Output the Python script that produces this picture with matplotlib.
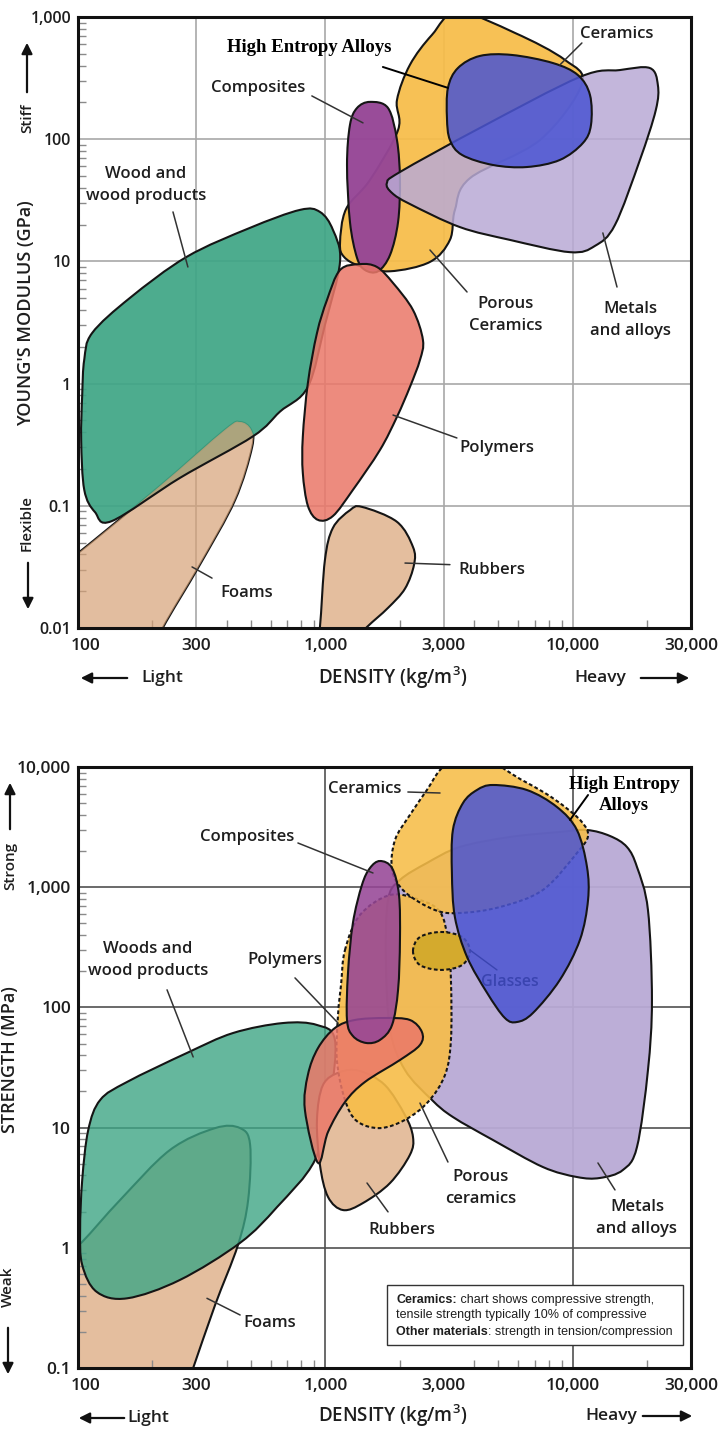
import numpy as np
import matplotlib
matplotlib.use('Agg')
import matplotlib.pyplot as plt
import matplotlib.transforms as mtrans
from matplotlib.path import Path
from matplotlib.patches import PathPatch, FancyArrowPatch, Rectangle
from matplotlib.colors import to_rgba
from matplotlib.ticker import LogLocator, NullFormatter

plt.rcParams['font.family'] = ['Open Sans', 'DejaVu Sans']
plt.rcParams['font.weight'] = 'semibold'
plt.rcParams['mathtext.default'] = 'regular'

W, H = 723, 1432

# ---------------- data: material bubbles (density kg/m3, property) ----------------
# Young's modulus chart (GPa)
foam_E_rho = [86, 86, 100, 214, 393, 452, 500, 505, 431, 311, 220, 195]
foam_E_val = [0.0055, 0.033, 0.041, 0.145, 0.42, 0.485, 0.42, 0.30, 0.111, 0.033, 0.010, 0.0055]

wood_E_rho = [106, 114, 162, 275, 495, 789, 950, 1072, 1145, 995, 849, 655, 509, 258, 137, 117, 106, 103, 104]
wood_E_val = [1.57, 2.59, 5.02, 10.9, 18.8, 26.4, 25.4, 18.1, 9.9, 3.02, 0.94, 0.59, 0.37, 0.169, 0.075, 0.089, 0.135, 0.345, 0.81]

rubber_E_rho = [915, 950, 995, 1072, 1256, 1404, 1944, 2258, 2280, 2096, 1789, 1472, 1256]
rubber_E_val = [0.0066, 0.0102, 0.036, 0.066, 0.092, 0.098, 0.074, 0.046, 0.033, 0.021, 0.0146, 0.0102, 0.0073]

poly_E_rho = [933, 1072, 1291, 1660, 1944, 2195, 2409, 2477, 2258, 1875, 1615, 1378, 1145, 1014, 924, 849, 810, 810, 849]
poly_E_val = [0.0766, 0.0825, 0.135, 0.286, 0.533, 0.94, 1.56, 2.27, 4.0, 6.66, 9.0, 9.5, 8.5, 4.83, 2.59, 1.01, 0.367, 0.186, 0.10]

ceram_E_rho = [3428, 5836, 9290, 10870, 7360, 3837, 3334, 3184, 2644, 1824, 1378, 1188, 1145, 1211, 1513, 1965, 1945, 2193, 2692]
ceram_E_val = [1099, 740, 445, 283, 98.5, 48, 26.3, 15, 9.9, 8.3, 9.17, 10.9, 14.1, 26.8, 46.4, 119, 209, 405, 713]

comp_E_rho = [1513, 1790, 1945, 2000, 1965, 1824, 1631, 1445, 1341, 1256, 1222, 1256, 1341]
comp_E_val = [202, 180, 98.5, 46.4, 21, 11.3, 8.3, 8.5, 10.7, 21, 61.5, 131, 180]

metal_E_rho = [1771, 2000, 4206, 10660, 15480, 20470, 22040, 21620, 18650, 14790, 12280, 9730, 5560, 3490, 2193, 1858]
metal_E_val = [43.8, 53.9, 123.5, 323, 368, 382, 278, 173, 67.6, 19.9, 13.4, 11.9, 15, 19.1, 29.5, 36.3]

hea_E_rho = [3097, 3126, 3428, 4206, 5672, 8300, 10470, 11720, 11830, 10970, 8850, 6515, 4755, 3565, 3184]
hea_E_val = [149, 263, 382, 480, 489, 420, 335, 230, 131, 93, 67.6, 59.2, 61.5, 74.3, 98.5]

# Strength chart (MPa)
foam_S_rho = [86, 86, 104, 148, 235, 358, 452, 496, 487, 443, 358, 292, 271]
foam_S_val = [0.066, 0.79, 1.12, 2.5, 6.5, 9.9, 9.9, 7.2, 2.5, 1.055, 0.334, 0.1, 0.066]

wood_S_rho = [123, 158, 275, 423, 673, 924, 1092, 1043, 907, 637, 452, 258, 158, 119, 104, 102, 104, 110]
wood_S_val = [17.0, 24, 41.7, 61.2, 74.1, 71.4, 53.6, 17.0, 5.37, 2.18, 1.10, 0.54, 0.38, 0.43, 0.72, 1.41, 3.66, 9.55]

rubber_S_rho = [950, 924, 977, 1145, 1378, 1738, 2096, 2258, 2193, 1824, 1419, 1178, 1024]
rubber_S_val = [4.89, 11.6, 22.6, 29.0, 29.6, 22.6, 12.7, 8.35, 5.92, 3.46, 2.36, 2.06, 2.65]

poly_S_rho = [933, 826, 849, 933, 1092, 1315, 1738, 2193, 2453, 2409, 2000, 1445, 1199, 1024]
poly_S_val = [5.08, 14.0, 27.4, 45.9, 67.4, 78.6, 81.6, 78.6, 62.4, 48.7, 36.5, 24, 16.3, 9.2]

metal_S_rho = [1790, 2000, 2570, 3490, 5560, 8850, 11400, 14120, 16530, 18150, 20100, 20860,
               20100, 18150, 15920, 12850, 10380, 7560, 4755, 3273, 2692, 2096, 1824, 1754]
metal_S_val = [783, 1148, 1590, 2160, 2615, 2880, 2990, 2667, 2160, 1472, 646, 115,
               30.1, 6.9, 4.44, 3.81, 3.88, 4.70, 7.88, 12.25, 17.0, 30.1, 64.9, 248]

ceram_S_rho = [1858, 1910, 2193, 2570, 2904, 3334, 4620, 6115, 7710, 9290, 10870, 11510, 10380, 7560, 5070, 3490, 2768, 2096]
ceram_S_val = [1390, 2470, 3988, 6437, 9441, 11440, 11006, 7947, 6077, 4648, 3486, 2667, 1925, 948, 684, 610, 646, 912]

porous_S_rho = [1199, 1378, 1824, 2409, 2904, 3126, 3214, 3214, 3041, 2594, 2096, 1660, 1341, 1199, 1112, 1124, 1156]
porous_S_val = [300, 587, 861, 783, 622, 364, 169, 53.6, 27.4, 16.3, 11.6, 9.9, 11.3, 17.0, 36.5, 86.5, 154]

glass_S_rho = [2258, 2409, 2930, 3565, 3837, 3565, 2930, 2409]
glass_S_val = [294, 385, 424, 385, 294, 225, 205, 225]

comp_S_rho = [1660, 1858, 1982, 2000, 1965, 1858, 1660, 1459, 1291, 1222, 1233, 1291, 1404, 1513]
comp_S_val = [1652, 1444, 861, 364, 140, 71.4, 53.6, 50.6, 57.8, 78.6, 193, 504, 1043, 1444]

hea_S_rho = [4755, 6515, 8618, 10380, 11400, 11510, 10670, 8850, 6890, 5943, 5310, 4500, 3733, 3334, 3243, 3273, 3595, 4093]
hea_S_val = [7085, 6437, 4648, 2990, 1472, 783, 364, 169, 89.8, 75.6, 81.6, 132, 263, 565, 1313, 2990, 5017, 6437]

# ticks
x_ticks = [100, 300, 1000, 3000, 10000, 30000]
x_labels = ['100', '300', '1,000', '3,000', '10,000', '30,000']
E_ticks = [0.01, 0.1, 1, 10, 100, 1000]
E_labels = ['0.01', '0.1', '1', '10', '100', '1,000']
S_ticks = [0.1, 1, 10, 100, 1000, 10000]
S_labels = ['0.1', '1', '10', '100', '1,000', '10,000']

# labels: text, figure pixel centre, leader (rho0, v0, rho1, v1)
E_notes = [
    ('Composites', 258, 88, (881, 226, 1418, 136)),
    ('Wood and\nwood products', 146, 185, (242, 25.4, 278, 9.0)),
    ('Ceramics', 617, 34, (10870, 613, 8850, 405)),
    ('Porous\nCeramics', 506, 315, (3733, 5.62, 2644, 12.4)),
    ('Metals\nand alloys', 630, 320, (15070, 6.17, 13210, 17.1)),
    ('Polymers', 497, 448, (3397, 0.359, 1875, 0.553)),
    ('Rubbers', 492, 570, (3184, 0.033, 2096, 0.034)),
    ('Foams', 247, 593, (348, 0.0256, 289, 0.0316)),
]
S_notes = [
    ('Ceramics', 365, 789, (2153, 6194, 2904, 6077)),
    ('Composites', 247, 837, (774, 2332, 1556, 1313)),
    ('Woods and\nwood products', 148, 960, (229, 140, 292, 38.7)),
    ('Polymers', 285, 960, (753, 176, 1124, 74.1)),
    ('Porous\nceramics', 481, 1188, (3126, 5.17, 2409, 16.0)),
    ('Metals\nand alloys', 637, 1218, (14790, 3.03, 12620, 5.08)),
    ('Rubbers', 402, 1230, (1790, 1.99, 1472, 3.46)),
    ('Foams', 270, 1323, (452, 0.276, 332, 0.38)),
]

GREEN = '#3ea585'
TAN = '#e4be9e'
FOAM_OVER = '#d6a277'
RED = '#eb7869'
YELLOW = '#f7bd48'
PURPLE = '#964696'
LAV = '#b9aad5'
BLUE = '#4b55d2'
MUSTARD = '#d4aa2d'
EDGE = '#151515'
TXT = '#1e1e1e'
DASH = (0, (1.8, 1.2))


def blob(ax, rho, val, fc, alpha=0.9, ls='-', zf=2, ze=None, fill=True, edge=True):
    # closed Catmull-Rom outline, built in log space and drawn as bezier path
    p = np.column_stack([np.log10(rho), np.log10(val)])
    n = len(p)
    verts = [p[0]]
    codes = [Path.MOVETO]
    for i in range(n):
        p0, p1, p2, p3 = p[i - 1], p[i], p[(i + 1) % n], p[(i + 2) % n]
        verts += [p1 + (p2 - p0) / 6, p2 - (p3 - p1) / 6, p2]
        codes += [Path.CURVE4] * 3
    path = Path(10 ** np.array(verts), codes)
    if fill:
        ax.add_patch(PathPatch(path, fc=to_rgba(fc, alpha), ec='none', zorder=zf))
    if edge:
        ax.add_patch(PathPatch(path, fc='none', ec=EDGE, lw=1.5, ls=ls,
                               zorder=ze if ze is not None else zf + 0.01))


def setup(ax, ylim, yticks, ylabels, gcol, xgrid, ysize):
    ax.set_xscale('log')
    ax.set_yscale('log')
    ax.set_xlim(100, 30000)
    ax.set_ylim(*ylim)
    ax.set_xticks(x_ticks, x_labels)
    ax.set_yticks(yticks, ylabels)
    ax.xaxis.set_minor_locator(LogLocator(base=10, subs=np.arange(2, 10)))
    ax.yaxis.set_minor_locator(LogLocator(base=10, subs=np.arange(2, 10)))
    ax.xaxis.set_minor_formatter(NullFormatter())
    ax.yaxis.set_minor_formatter(NullFormatter())
    ax.tick_params(which='major', length=0, colors=TXT)
    ax.tick_params(axis='x', which='major', pad=7, labelsize=12.5)
    ax.tick_params(axis='y', which='major', pad=5, labelsize=ysize)
    ax.tick_params(which='minor', direction='in', length=6, width=1, color='#8a8a8a')
    # first density label sits a little right of the frame
    lab = ax.get_xticklabels()[0]
    lab.set_transform(lab.get_transform() + mtrans.ScaledTranslation(8 / 100, 0, fig.dpi_scale_trans))
    for v in xgrid:
        ax.axvline(v, color=gcol, lw=1.2, zorder=0.5)
    for v in yticks:
        ax.axhline(v, color=gcol, lw=1.2, zorder=0.5)
    for s in ax.spines.values():
        s.set_linewidth(2.2)
        s.set_color('#111111')
        s.set_zorder(10)


def ftext(px, py, s, **kw):
    kw.setdefault('ha', 'center')
    kw.setdefault('va', 'center')
    kw.setdefault('color', TXT)
    return fig.text(px / W, 1 - py / H, s, **kw)


def farrow(px0, py0, px1, py1):
    a = FancyArrowPatch((px0 / W, 1 - py0 / H), (px1 / W, 1 - py1 / H),
                        transform=fig.transFigure, arrowstyle='-|>',
                        mutation_scale=16, lw=1.6, color='#111111')
    fig.add_artist(a)


def notes(ax, items):
    for s, px, py, (r0, v0, r1, v1) in items:
        ftext(px, py, s, fontsize=12, linespacing=1.45)
        ax.annotate('', xy=(r1, v1), xytext=(r0, v0),
                    arrowprops=dict(arrowstyle='-', color='#333333', lw=1.1,
                                    shrinkA=0, shrinkB=0), zorder=8)


fig = plt.figure(figsize=(W / 100, H / 100), dpi=100)
axE = fig.add_axes([78 / W, 1 - 628 / H, 613 / W, 611 / H])
axS = fig.add_axes([78 / W, 1 - 1368 / H, 613 / W, 601 / H])

# ---------------- modulus chart ----------------
setup(axE, (0.01, 1000), E_ticks, E_labels, '#a8a8a8', [300, 1000, 3000, 10000], 11.5)
blob(axE, foam_E_rho, foam_E_val, FOAM_OVER, alpha=0.7, zf=2.3, ze=1.5)
blob(axE, wood_E_rho, wood_E_val, GREEN, alpha=0.92, zf=2, ze=2.6)
blob(axE, rubber_E_rho, rubber_E_val, TAN, alpha=1, zf=2)
blob(axE, ceram_E_rho, ceram_E_val, YELLOW, alpha=0.93, zf=3.5)
blob(axE, comp_E_rho, comp_E_val, PURPLE, alpha=0.97, zf=4)
blob(axE, poly_E_rho, poly_E_val, RED, alpha=0.86, zf=4.5)
blob(axE, metal_E_rho, metal_E_val, LAV, alpha=0.85, zf=5)
blob(axE, hea_E_rho, hea_E_val, BLUE, alpha=0.86, zf=6)
notes(axE, E_notes)
ftext(309, 47, 'High Entropy Alloys', fontsize=13.5, fontweight='bold',
      family=['Liberation Serif', 'DejaVu Serif'], color='black')
axE.annotate('', xy=(3126, 263), xytext=(1706, 390),
             arrowprops=dict(arrowstyle='-', color='black', lw=1.4, shrinkA=0, shrinkB=0), zorder=8)

ftext(26, 313, "YOUNG'S MODULUS (GPa)", fontsize=13, rotation=90)
ftext(27, 118, 'Stiff', fontsize=11, rotation=90)
farrow(27, 95, 27, 40)
ftext(27, 523, 'Flexible', fontsize=11, rotation=90)
farrow(28, 560, 28, 612)
ftext(393, 678, 'DENSITY (kg/m$^3$)', fontsize=13.5)
ftext(162, 678, 'Light', fontsize=12.5)
farrow(130, 678, 78, 678)
ftext(600, 678, 'Heavy', fontsize=12.5)
farrow(638, 678, 692, 678)

# ---------------- strength chart ----------------
setup(axS, (0.1, 10000), S_ticks, S_labels, '#505050', [1000, 10000], 12.5)
blob(axS, foam_S_rho, foam_S_val, TAN, alpha=1, zf=1)
blob(axS, wood_S_rho, wood_S_val, GREEN, alpha=0.8, zf=2)
blob(axS, metal_S_rho, metal_S_val, LAV, alpha=0.95, zf=1.5)
blob(axS, rubber_S_rho, rubber_S_val, TAN, alpha=1, zf=2.5)
blob(axS, porous_S_rho, porous_S_val, YELLOW, alpha=0.9, ls=DASH, zf=3)
blob(axS, ceram_S_rho, ceram_S_val, YELLOW, alpha=0.88, ls=DASH, zf=3.2)
blob(axS, glass_S_rho, glass_S_val, MUSTARD, alpha=1, ls=DASH, zf=3.4)
blob(axS, poly_S_rho, poly_S_val, RED, alpha=0.86, zf=4)
blob(axS, comp_S_rho, comp_S_val, PURPLE, alpha=0.88, zf=4.5)
blob(axS, hea_S_rho, hea_S_val, BLUE, alpha=0.86, zf=6)
notes(axS, S_notes)
ftext(510, 982, 'Glasses', fontsize=11.5, color='#3a44b0')
axS.annotate('', xy=(3837, 300), xytext=(4932, 205),
             arrowprops=dict(arrowstyle='-', color='#3a44b0', lw=1, shrinkA=0, shrinkB=0), zorder=7)
ftext(624, 795, 'High Entropy\nAlloys', fontsize=13.5, fontweight='bold',
      family=['Liberation Serif', 'DejaVu Serif'], color='black', linespacing=1.3)
axS.annotate('', xy=(9730, 3623), xytext=(11510, 5848),
             arrowprops=dict(arrowstyle='-', color='black', lw=1.4, shrinkA=0, shrinkB=0), zorder=8)

# note box
axS.add_patch(Rectangle((0.504, 0.038), 0.483, 0.1, transform=axS.transAxes,
                        fc='white', ec='#333333', lw=1, zorder=9))
nfam = ['Liberation Sans', 'DejaVu Sans']
t1 = ftext(396, 1300, 'Ceramics:', fontsize=9, fontweight='bold', ha='left', family=nfam)
ftext(396, 1315, 'tensile strength typically 10% of compressive', fontsize=9,
      fontweight='normal', ha='left', family=nfam)
t3 = ftext(396, 1332, 'Other materials', fontsize=9, fontweight='bold', ha='left', family=nfam)

ftext(10, 1060, 'STRENGTH (MPa)', fontsize=13, rotation=90)
ftext(10, 866, 'Strong', fontsize=11, rotation=90)
farrow(10, 832, 10, 780)
ftext(8, 1287, 'Weak', fontsize=11, rotation=90)
farrow(8, 1325, 8, 1377)
ftext(393, 1416, 'DENSITY (kg/m$^3$)', fontsize=13.5)
ftext(148, 1418, 'Light', fontsize=12.5)
farrow(127, 1418, 76, 1418)
ftext(611, 1416, 'Heavy', fontsize=12.5)
farrow(640, 1416, 695, 1416)

# second halves of the mixed-weight note lines, placed after the bold words
fig.canvas.draw()
r = fig.canvas.get_renderer()
for t, s, py in [(t1, ' chart shows compressive strength,', 1300),
                 (t3, ': strength in tension/compression', 1332)]:
    bb = t.get_window_extent(r)
    ftext(bb.x1, py, s, fontsize=9, fontweight='normal', family=nfam, ha='left')

fig.savefig('out.png', dpi=100)
